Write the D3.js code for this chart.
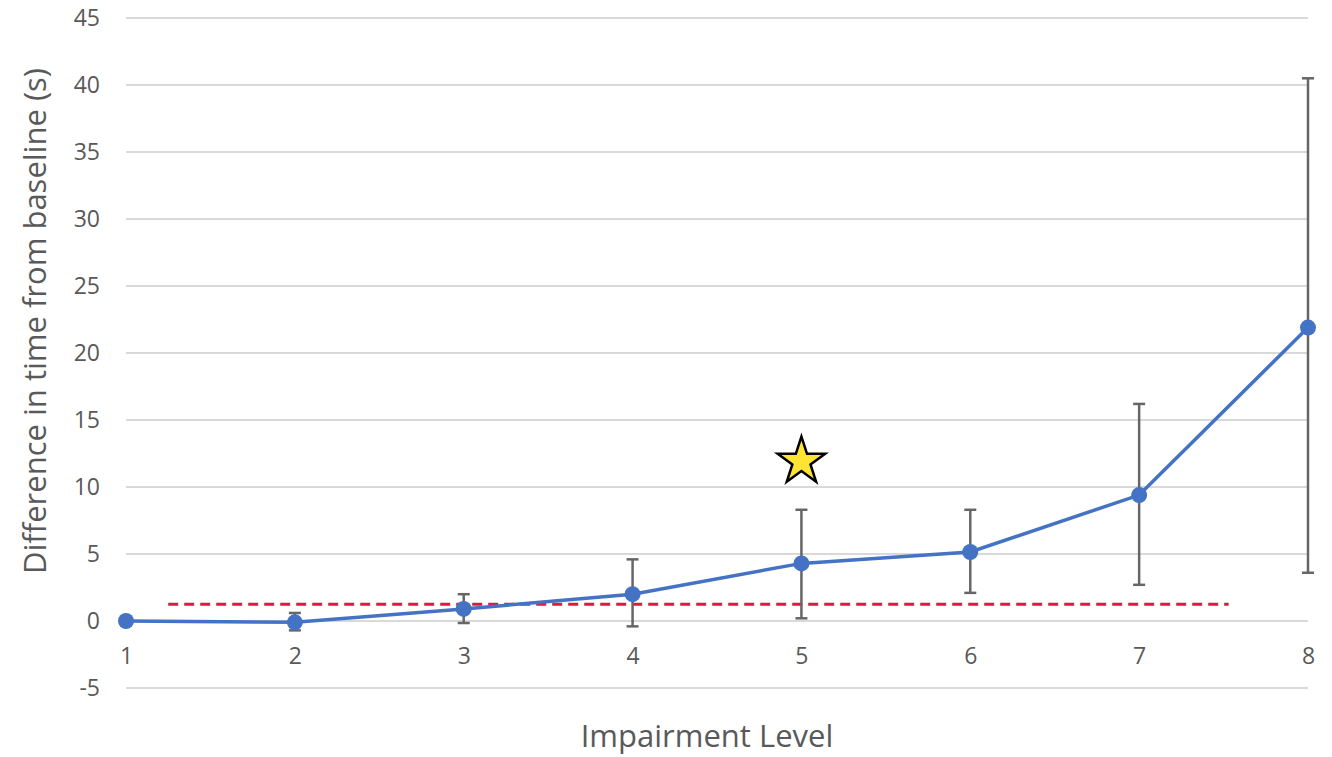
<!DOCTYPE html>
<html>
<head>
<meta charset="utf-8">
<script src="https://cdn.jsdelivr.net/npm/d3@7"></script>
<style>
  body { margin: 0; background: #fff; }
  svg { display: block; font-family: "Open Sans", "Noto Sans", sans-serif; }
</style>
</head>
<body>
<div id="container"></div>
<script>
///data
const levels = [1, 2, 3, 4, 5, 6, 7, 8];
const means = [0, -0.1, 0.9, 2.0, 4.3, 5.15, 9.4, 21.9];
const errLow = [-0.3, -0.7, -0.15, -0.4, 0.2, 2.1, 2.7, 3.6];
const errHigh = [0.3, 0.6, 2.0, 4.6, 8.3, 8.3, 16.2, 40.5];
const yTicks = [-5, 0, 5, 10, 15, 20, 25, 30, 35, 40, 45];
const threshold = { from: 1.25, to: 7.53, value: 1.25 };
const starMark = { level: 5, value: 11.9 };

///vars
let w = 1332,
h = 757;
const padL = 126, padR = 1308, padT = 18, padB = 688;
const font = '"Open Sans", "Noto Sans", sans-serif';

let svg = d3.select("#container").
append("svg").
attr("width", w).
attr("height", h);

const x = d3.scaleLinear().domain([1, 8]).range([padL, padR]);
const y = d3.scaleLinear().domain([-5, 45]).range([padB, padT]);

///gridlines
svg.append("g").
selectAll("line").
data(yTicks).
join("line").
attr("x1", padL).
attr("x2", padR).
attr("y1", d => y(d)).
attr("y2", d => y(d)).
attr("stroke", "#d9d9d9").
attr("stroke-width", 2);

///y axis
const yAxis = d3.axisLeft(y).tickValues(yTicks).tickSize(0).tickPadding(0).tickFormat(d => String(d));
const gy = svg.append("g").
attr("transform", "translate(" + (padL - 26) + ",0)").
call(yAxis);
gy.select(".domain").remove();
gy.attr("font-family", font).attr("font-size", 23);
gy.selectAll("text").attr("fill", "#595959");

///x axis labels (Excel style: not on the axis line)
const xAxis = d3.axisBottom(x).tickValues(levels).tickSize(0).tickPadding(0).tickFormat(d => String(d));
const gx = svg.append("g").
attr("transform", "translate(0," + 648 + ")").
call(xAxis);
gx.select(".domain").remove();
gx.attr("font-family", font).attr("font-size", 23);
gx.selectAll("text").attr("fill", "#595959");

///titles
svg.append("text").
attr("x", 707).
attr("y", 747).
attr("text-anchor", "middle").
attr("fill", "#595959").
style("font-size", "31px").
text("Impairment Level");

svg.append("text").
attr("transform", "translate(46,321) rotate(-90)").
attr("text-anchor", "middle").
attr("fill", "#595959").
style("font-size", "31px").
text("Difference in time from baseline (s)");

///threshold line
svg.append("line").
attr("x1", x(threshold.from)).
attr("x2", x(threshold.to)).
attr("y1", y(threshold.value)).
attr("y2", y(threshold.value)).
attr("stroke", "#e0173f").
attr("stroke-width", 3).
attr("stroke-dasharray", "10,6");

const pts = levels.map((l, i) => ({ l: l, m: means[i], lo: errLow[i], hi: errHigh[i] }));

///error bars
const eb = svg.append("g").attr("stroke", "#666666").attr("stroke-width", 2.5);
eb.selectAll(".stem").
data(pts).
join("line").
attr("class", "stem").
attr("x1", d => x(d.l)).
attr("x2", d => x(d.l)).
attr("y1", d => y(d.lo)).
attr("y2", d => y(d.hi));
eb.selectAll(".capHi").
data(pts).
join("line").
attr("class", "capHi").
attr("x1", d => x(d.l) - 6).
attr("x2", d => x(d.l) + 6).
attr("y1", d => y(d.hi)).
attr("y2", d => y(d.hi));
eb.selectAll(".capLo").
data(pts).
join("line").
attr("class", "capLo").
attr("x1", d => x(d.l) - 6).
attr("x2", d => x(d.l) + 6).
attr("y1", d => y(d.lo)).
attr("y2", d => y(d.lo));

///line + markers
svg.append("path").
datum(pts).
attr("fill", "none").
attr("stroke", "#4472c4").
attr("stroke-width", 3.5).
attr("d", d3.line().x(d => x(d.l)).y(d => y(d.m)));

svg.append("g").
selectAll("circle").
data(pts).
join("circle").
attr("cx", d => x(d.l)).
attr("cy", d => y(d.m)).
attr("r", 8).
attr("fill", "#4472c4");

///star
svg.append("path").
attr("d", d3.symbol().type(d3.symbolStar).size(700)()).
attr("transform", "translate(" + x(starMark.level) + "," + y(starMark.value) + ")").
attr("fill", "#ffe433").
attr("stroke", "#000").
attr("stroke-width", 2.5).
attr("stroke-linejoin", "miter");
</script>
</body>
</html>
